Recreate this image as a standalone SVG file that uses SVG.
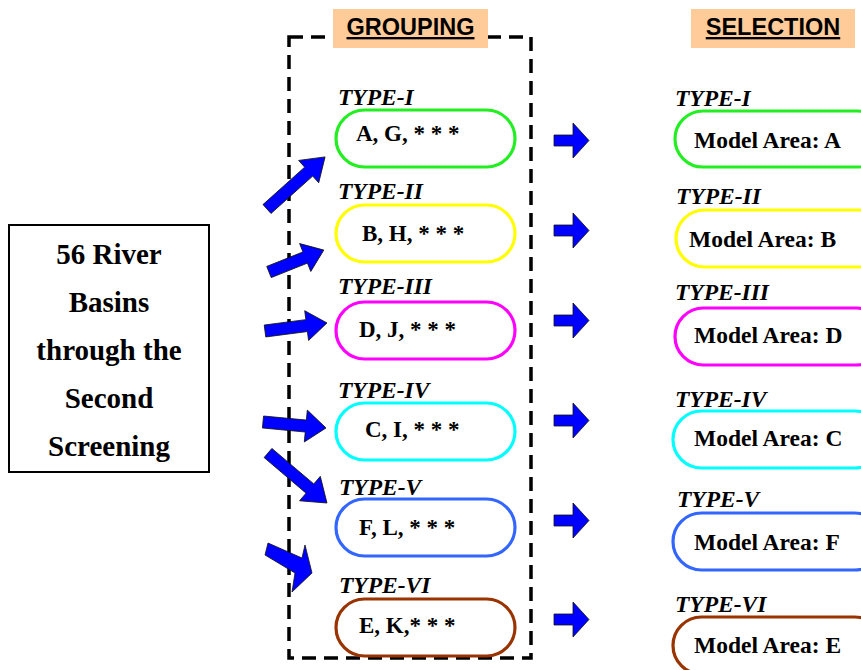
<svg xmlns="http://www.w3.org/2000/svg" width="861" height="670" viewBox="0 0 861 670">
<style>
.hdr{font-family:"Liberation Sans",Arial,sans-serif;font-weight:bold;font-size:23.5px;text-decoration:underline}
.hbox{fill:#FFCC99;stroke:none}
.typ{font-family:"Liberation Serif","Times New Roman",serif;font-weight:bold;font-style:italic;font-size:23.5px;fill:#000}
.nt{font-family:"Liberation Serif","Times New Roman",serif;font-weight:bold;font-size:23px;fill:#000}
.ma{font-size:23.5px}
.big{font-family:"Liberation Serif","Times New Roman",serif;font-weight:bold;font-size:29px;fill:#000;text-anchor:middle}
.ov{fill:#fff;stroke-width:3.2}
.arr{fill:#0000FF;stroke:#111;stroke-width:0.8;stroke-linejoin:miter}
</style>
<rect width="861" height="670" fill="#fff"/>
<rect x="289" y="37" width="242" height="621" fill="none" stroke="#000" stroke-width="3.5" stroke-dasharray="14 8"/>
<g id="hdr-grouping"><rect class="hbox" x="333" y="9" width="155" height="39"/><text class="hdr" x="410.5" y="35" text-anchor="middle">GROUPING</text></g>
<g id="hdr-selection"><rect class="hbox" x="691" y="9" width="164" height="39"/><text class="hdr" x="773" y="35" text-anchor="middle">SELECTION</text></g>
<g id="source"><rect x="9" y="225" width="200" height="247" fill="#fff" stroke="#000" stroke-width="2"/>
<text class="big" x="109" y="264">56 River</text>
<text class="big" x="109" y="312">Basins</text>
<text class="big" x="109" y="360">through the</text>
<text class="big" x="109" y="408">Second</text>
<text class="big" x="109" y="456">Screening</text></g>
<g id="g1"><text class="typ" x="338" y="105">TYPE-I</text><rect class="ov" x="336" y="110" width="179" height="57" rx="28.5" stroke="#22EE22"/><text class="nt" x="356" y="141">A, G, * * *</text></g>
<g id="g2"><text class="typ" x="338" y="199">TYPE-II</text><rect class="ov" x="336" y="205" width="179" height="57" rx="28.5" stroke="#FFFF00"/><text class="nt" x="362" y="241">B, H, * * *</text></g>
<g id="g3"><text class="typ" x="338" y="294">TYPE-III</text><rect class="ov" x="336" y="302" width="179" height="57" rx="28.5" stroke="#FF00FF"/><text class="nt" x="359" y="337">D, J, * * *</text></g>
<g id="g4"><text class="typ" x="338" y="398">TYPE-IV</text><rect class="ov" x="336" y="403" width="179" height="57" rx="28.5" stroke="#00FFFF"/><text class="nt" x="365" y="437">C, I, * * *</text></g>
<g id="g5"><text class="typ" x="339" y="495">TYPE-V</text><rect class="ov" x="336" y="499" width="179" height="57" rx="28.5" stroke="#3366FF"/><text class="nt" x="359" y="535">F, L, * * *</text></g>
<g id="g6"><text class="typ" x="339" y="593">TYPE-VI</text><rect class="ov" x="336" y="599" width="179" height="57" rx="28.5" stroke="#993300"/><text class="nt" x="359" y="633">E, K,* * *</text></g>
<g id="s1"><text class="typ" x="675" y="106">TYPE-I</text><rect class="ov" x="675" y="111" width="210" height="56" rx="28" stroke="#22EE22"/><text class="nt ma" x="694" y="148">Model Area: A</text></g>
<g id="s2"><text class="typ" x="676" y="204">TYPE-II</text><rect class="ov" x="676" y="210" width="210" height="57" rx="28.5" stroke="#FFFF00"/><text class="nt ma" x="689" y="247">Model Area: B</text></g>
<g id="s3"><text class="typ" x="675" y="300">TYPE-III</text><rect class="ov" x="675" y="308" width="210" height="57" rx="28.5" stroke="#FF00FF"/><text class="nt ma" x="694" y="343">Model Area: D</text></g>
<g id="s4"><text class="typ" x="675" y="407">TYPE-IV</text><rect class="ov" x="673" y="411" width="210" height="57" rx="28.5" stroke="#00FFFF"/><text class="nt ma" x="694" y="446">Model Area: C</text></g>
<g id="s5"><text class="typ" x="677" y="507">TYPE-V</text><rect class="ov" x="673" y="513" width="210" height="57" rx="28.5" stroke="#3366FF"/><text class="nt ma" x="694" y="550">Model Area: F</text></g>
<g id="s6"><text class="typ" x="675" y="612">TYPE-VI</text><rect class="ov" x="673" y="617" width="210" height="57" rx="28.5" stroke="#993300"/><text class="nt ma" x="694" y="653">Model Area: E</text></g>
<g id="connectors">
<polygon class="arr" transform="translate(267,209) rotate(-41.9)" points="0,-6 56,-6 56,-15 78,0 56,15 56,6 0,6"/>
<polygon class="arr" transform="translate(269,272) rotate(-21.8)" points="0,-6 39,-6 39,-15 59,0 39,15 39,6 0,6"/>
<polygon class="arr" transform="translate(265,331) rotate(-7.4)" points="0,-6 42,-6 42,-15 62.5,0 42,15 42,6 0,6"/>
<polygon class="arr" transform="translate(263,422) rotate(5.4)" points="0,-6 43,-6 43,-16 63.3,0 43,16 43,6 0,6"/>
<polygon class="arr" transform="translate(268,453) rotate(40.3)" points="0,-6 55,-6 55,-16 77.3,0 55,16 55,6 0,6"/>
<polygon class="arr" points="268,543 302,558 305,545 312,573 292,592 295,573 265,555"/>
<g id="right-arrows">
<polygon class="arr" points="554,135 573,135 573,123 589,140.5 573,158 573,146 554,146"/>
<polygon class="arr" transform="translate(0,90)" points="554,135 573,135 573,123 589,140.5 573,158 573,146 554,146"/>
<polygon class="arr" transform="translate(0,180)" points="554,135 573,135 573,123 589,140.5 573,158 573,146 554,146"/>
<polygon class="arr" transform="translate(0,280)" points="554,135 573,135 573,123 589,140.5 573,158 573,146 554,146"/>
<polygon class="arr" transform="translate(0,380)" points="554,135 573,135 573,123 589,140.5 573,158 573,146 554,146"/>
<polygon class="arr" transform="translate(0,479)" points="554,135 573,135 573,123 589,140.5 573,158 573,146 554,146"/>
</g>
</g>
</svg>
